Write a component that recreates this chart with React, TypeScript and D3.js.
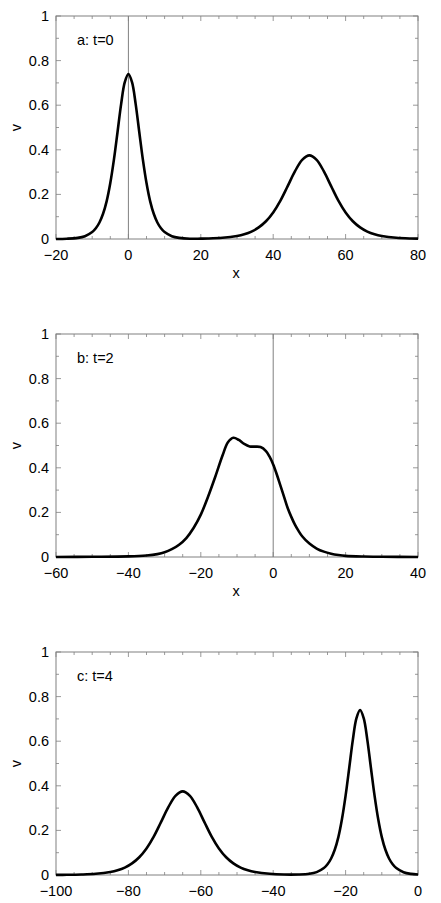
import React from "react";
import * as d3 from "d3";

// panel a: t=0
const xA = [-20, -17, -14, -12, -10, -9, -8, -7, -6, -5, -4, -3, -2, -1, 0, 1, 2, 3, 4, 5, 6, 7, 8, 9, 10, 12, 14, 17, 20, 22, 26, 30, 32, 34, 36, 38, 40, 42, 44, 46, 48, 50, 52, 54, 56, 58, 60, 62, 64, 66, 68, 70, 74, 78, 80];
const vA = [0.0003, 0.0013, 0.005, 0.0126, 0.031, 0.048, 0.074, 0.113, 0.17, 0.251, 0.356, 0.48, 0.606, 0.703, 0.74, 0.703, 0.606, 0.48, 0.356, 0.251, 0.17, 0.113, 0.074, 0.048, 0.031, 0.0126, 0.005, 0.0013, 0.0016, 0.0021, 0.0053, 0.0134, 0.021, 0.033, 0.052, 0.0795, 0.119, 0.172, 0.237, 0.303, 0.355, 0.375, 0.355, 0.303, 0.237, 0.172, 0.119, 0.0795, 0.052, 0.033, 0.021, 0.0134, 0.0053, 0.0021, 0.0015];

// panel b: t=2
const xB = [-60, -50, -40, -35, -32, -30, -28, -26, -24, -22, -20, -18, -16, -14, -12.5, -11, -9.5, -8, -6.5, -5, -3.5, -2, -1, 0, 1, 2, 3, 4, 5, 6, 7, 8, 10, 12, 14, 16, 18, 20, 25, 30, 40];
const vB = [0, 0.001, 0.003, 0.007, 0.013, 0.021, 0.035, 0.055, 0.085, 0.13, 0.19, 0.27, 0.36, 0.455, 0.515, 0.535, 0.525, 0.507, 0.496, 0.495, 0.493, 0.475, 0.45, 0.415, 0.37, 0.32, 0.27, 0.22, 0.18, 0.145, 0.117, 0.093, 0.06, 0.038, 0.024, 0.015, 0.009, 0.005, 0.002, 0.001, 0];

// panel c: t=4
const xC = [-100, -97, -93, -89, -85, -83, -81, -79, -77, -75, -73, -71, -69, -67, -65, -63, -61, -59, -57, -55, -53, -51, -49, -47, -45, -41, -37, -33, -30, -28, -26, -25, -24, -23, -22, -21, -20, -19, -18, -17, -16, -15, -14, -13, -12, -11, -10, -9, -8, -7, -6, -4, -2, 0];
const vC = [0.0005, 0.0008, 0.0021, 0.0053, 0.0134, 0.021, 0.033, 0.052, 0.0795, 0.119, 0.172, 0.237, 0.303, 0.355, 0.375, 0.355, 0.303, 0.237, 0.172, 0.119, 0.0795, 0.052, 0.033, 0.021, 0.0134, 0.0053, 0.0021, 0.0023, 0.0055, 0.013, 0.031, 0.048, 0.074, 0.113, 0.17, 0.251, 0.356, 0.48, 0.606, 0.703, 0.74, 0.703, 0.606, 0.48, 0.356, 0.251, 0.17, 0.113, 0.074, 0.048, 0.031, 0.0126, 0.005, 0.0021];

const yTicks = [0, 0.2, 0.4, 0.6, 0.8, 1];
const FONT = "Liberation Sans, Arial, sans-serif";
const FRAME = "#808080";
const FS = 14.5;

function fmt(n) {
  return n < 0 ? "\u2212" + Math.abs(n) : String(n);
}

function Panel({ top, xs, vs, domain, title, zeroLine, xLabel }) {
  const left = 56, right = 418, height = 223;
  const x = d3.scaleLinear().domain(domain).range([left, right]);
  const y = d3.scaleLinear().domain([0, 1]).range([top + height, top]);
  const line = d3
    .line()
    .x(d => x(d[0]))
    .y(d => y(d[1]))
    .curve(d3.curveCatmullRom.alpha(0.5));
  const pts = xs.map((v, i) => [v, vs[i]]);
  const xMajor = d3.range(domain[0], domain[1] + 1, 20);
  const xMinor = d3.range(domain[0], domain[1] + 1, 5);
  const yMinor = d3.range(0, 1.001, 0.1);

  return (
    <g>
      {/* ticks point inward on every side */}
      {xMinor.map(t => (
        <g key={"xm" + t} stroke={FRAME} strokeWidth={0.8}>
          <line x1={x(t)} x2={x(t)} y1={y(0)} y2={y(0) - (t % 20 === 0 ? 5 : 3)} />
          <line x1={x(t)} x2={x(t)} y1={y(1)} y2={y(1) + (t % 20 === 0 ? 5 : 3)} />
        </g>
      ))}
      {yMinor.map((t, i) => (
        <g key={"ym" + i} stroke={FRAME} strokeWidth={0.8}>
          <line x1={left} x2={left + (i % 2 === 0 ? 5 : 3)} y1={y(t)} y2={y(t)} />
          <line x1={right} x2={right - (i % 2 === 0 ? 5 : 3)} y1={y(t)} y2={y(t)} />
        </g>
      ))}
      <rect x={left} y={top} width={right - left} height={height} fill="none" stroke={FRAME} strokeWidth={1} />
      {zeroLine && (
        <line x1={x(0)} x2={x(0)} y1={y(0)} y2={y(1)} stroke={FRAME} strokeWidth={1} />
      )}
      <path d={line(pts)} fill="none" stroke="#000" strokeWidth={2.6} strokeLinejoin="round" />
      {yTicks.map(t => (
        <text key={"yl" + t} x={49} y={y(t)} dy="0.35em" textAnchor="end" fontSize={FS} fontFamily={FONT}>
          {t}
        </text>
      ))}
      {xMajor.map(t => (
        <text key={"xl" + t} x={x(t)} y={y(0) + 20.5} textAnchor="middle" fontSize={FS} fontFamily={FONT}>
          {fmt(t)}
        </text>
      ))}
      {xLabel && (
        <text x={(left + right) / 2 - 1} y={y(0) + 39} textAnchor="middle" fontSize={FS} fontFamily={FONT}>
          x
        </text>
      )}
      <text
        transform={`translate(21,${top + height / 2}) rotate(-90)`}
        textAnchor="middle"
        fontSize={FS}
        fontFamily={FONT}
      >
        v
      </text>
      <text x={77} y={top + 29} fontSize={FS} fontFamily={FONT}>
        {title}
      </text>
    </g>
  );
}

export default function App() {
  return (
    <svg width={441} height={903} style={{ position: "absolute", left: 0, top: 0, background: "#fff" }}>
      <Panel top={16} xs={xA} vs={vA} domain={[-20, 80]} title="a: t=0" zeroLine xLabel />
      <Panel top={334} xs={xB} vs={vB} domain={[-60, 40]} title="b: t=2" zeroLine xLabel />
      <Panel top={652} xs={xC} vs={vC} domain={[-100, 0]} title="c: t=4" zeroLine={false} xLabel={false} />
    </svg>
  );
}
